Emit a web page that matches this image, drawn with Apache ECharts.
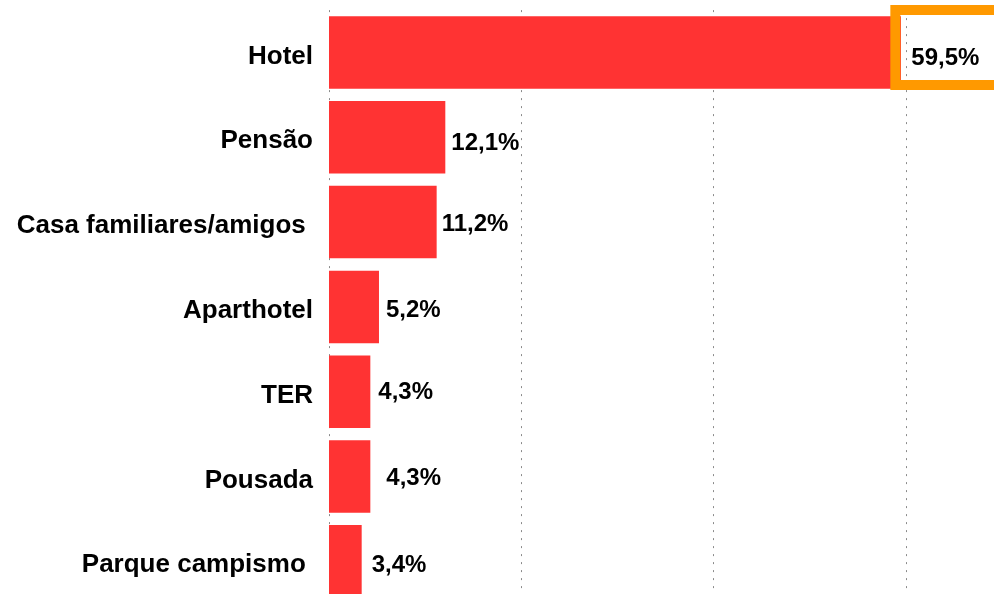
<!DOCTYPE html>
<html><head><meta charset="utf-8">
<script src="https://cdn.jsdelivr.net/npm/echarts@6/dist/echarts.min.js"></script>
<style>html,body{margin:0;padding:0;background:#fff}#c{width:994px;height:594px}</style>
</head><body><div id="c"></div>
<script>
const categories = ['Hotel', 'Pensão', 'Casa familiares/amigos ', 'Aparthotel', 'TER', 'Pousada', 'Parque campismo '];
const values = [59.5, 12.1, 11.2, 5.2, 4.3, 4.3, 3.4];
const labelGap = [0, 6, 5, 7, 8, 16, 10];
const labelNudge = [0, 6.5, 2, 3.3, 0.5, 1.5, 4];
const axisTicks = [0, 20, 40, 60, 80];

const FONT = '"Liberation Sans", Arial, sans-serif';
const fmt = v => v.toFixed(1).replace('.', ',') + '%';

const data = values.map((v, i) => {
  const item = { value: v, label: { distance: labelGap[i], offset: [0, labelNudge[i]] } };
  if (i === 0) {
    item.label = {
      position: 'right', distance: 0, offset: [-5.6, -42.5],
      align: 'left', verticalAlign: 'top', lineHeight: 24,
      borderColor: '#FF9900', borderWidth: 10,
      padding: [36, 120, 15, 16]
    };
  }
  return item;
});

const chart = echarts.init(document.getElementById('c'));
chart.setOption({
  animation: false,
  grid: { left: 329, top: 10.1, width: 769, height: 593.6, containLabel: false, outerBoundsMode: 'none' },
  xAxis: {
    type: 'value', min: axisTicks[0], max: axisTicks[axisTicks.length - 1], interval: 20,
    axisLabel: { show: false }, axisLine: { show: false }, axisTick: { show: false },
    splitLine: { show: true, lineStyle: { color: '#8a8a8a', width: 1, type: [2, 6] } }
  },
  yAxis: {
    type: 'category', data: categories, inverse: true,
    axisLine: { show: false }, axisTick: { show: false },
    axisLabel: { margin: 16, color: '#000', fontFamily: FONT, fontWeight: 'bold', fontSize: 26,
      verticalAlign: 'top', lineHeight: 8 }
  },
  series: [{
    type: 'bar', data: data, barWidth: '85.5%',
    itemStyle: { color: '#FF3333' },
    label: {
      show: true, position: 'right',
      color: '#000', fontFamily: FONT, fontWeight: 'bold', fontSize: 24,
      formatter: p => fmt(p.value)
    }
  }]
});
</script></body></html>
